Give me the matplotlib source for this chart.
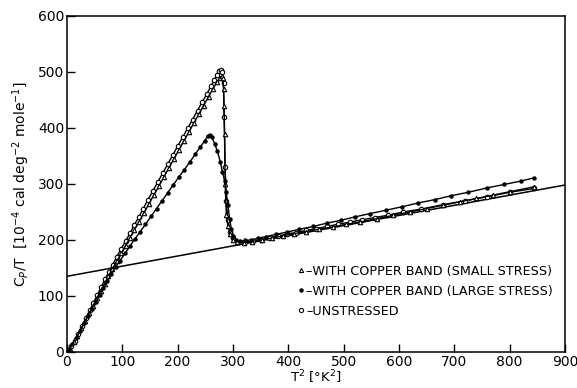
import numpy as np
import matplotlib.pyplot as plt
from matplotlib.lines import Line2D

# unstressed sample (open circles)
t2_unstressed = [3, 8, 14, 20, 27, 34, 41, 48, 55, 62, 69, 76, 83, 90, 98, 106, 114,
                 122, 130, 138, 146, 155, 164, 173, 182, 191, 200, 209, 218, 227, 236,
                 245, 253, 260, 266, 271, 275, 278, 281, 283, 284, 286, 288, 291, 295,
                 301, 310, 322, 336, 350, 366, 382, 398, 414, 432, 450, 470, 490, 512,
                 534, 556, 580, 608, 640, 680, 720, 760, 800, 845]
cpt_unstressed = [3, 10, 20, 32, 46, 60, 74, 88, 102, 116, 130, 143, 156, 170, 184, 198,
                  212, 227, 241, 256, 271, 287, 303, 319, 335, 351, 367, 383, 399, 415,
                  431, 447, 461, 474, 485, 494, 501, 503, 499, 480, 420, 330, 270, 235,
                  215, 203, 197, 196, 198, 200, 204, 207, 211, 213, 217, 220, 224, 228,
                  232, 236, 240, 244, 250, 255, 263, 270, 277, 285, 292]

# copper band, small stress (triangles)
t2_small = [5, 12, 19, 26, 33, 40, 47, 54, 61, 68, 75, 82, 90, 98, 106, 114, 122, 130,
            139, 148, 157, 166, 175, 184, 193, 202, 211, 220, 229, 238, 247, 256, 264,
            271, 277, 280, 282, 283, 284, 285, 286, 288, 291, 295, 300, 308, 320, 335,
            352, 370, 390, 410, 432, 455, 480, 505, 530, 560, 590, 620, 650, 680, 710,
            740, 770, 800, 845]
cpt_small = [6, 17, 29, 42, 55, 69, 82, 96, 109, 122, 135, 148, 162, 176, 190, 204, 218,
             232, 248, 264, 280, 296, 312, 328, 344, 360, 376, 392, 408, 424, 440, 456,
             470, 482, 490, 492, 490, 470, 440, 390, 300, 245, 225, 210, 200, 196, 195,
             197, 200, 203, 207, 211, 215, 219, 223, 228, 232, 238, 244, 250, 256, 262,
             268, 274, 280, 286, 295]

# copper band, large stress (dots)
t2_large = [4, 10, 17, 24, 31, 38, 45, 52, 59, 66, 73, 80, 88, 96, 105, 114, 123, 132,
            142, 152, 162, 172, 182, 192, 202, 212, 222, 232, 241, 249, 255, 258, 262,
            267, 272, 277, 281, 285, 288, 291, 294, 297, 301, 306, 313, 322, 333, 345,
            360, 378, 398, 420, 445, 470, 495, 520, 548, 576, 605, 635, 665, 695, 725,
            760, 790, 820, 845]
cpt_large = [5, 14, 25, 38, 51, 64, 77, 89, 101, 114, 126, 139, 152, 163, 176, 189, 202,
             214, 228, 242, 256, 270, 284, 298, 312, 325, 339, 353, 366, 377, 386, 388,
             383, 372, 358, 340, 322, 305, 285, 262, 238, 220, 207, 200, 198, 199, 200,
             203, 206, 210, 214, 219, 224, 230, 235, 241, 247, 253, 259, 266, 272, 279,
             285, 293, 299, 305, 311]

# straight reference line
t2_ref = [0, 900]
cpt_ref = [135, 298]

fig, ax = plt.subplots(figsize=(5.77, 3.88), dpi=100)
fig.subplots_adjust(left=0.116, right=0.979, top=0.959, bottom=0.093)

ax.plot(t2_ref, cpt_ref, color='black', lw=1.1)
ax.plot(t2_unstressed, cpt_unstressed, color='black', lw=1.0, marker='o',
        mfc='white', mec='black', ms=3.2, mew=0.8)
ax.plot(t2_small, cpt_small, color='black', lw=1.0, marker='^',
        mfc='white', mec='black', ms=3.2, mew=0.8)
ax.plot(t2_large, cpt_large, color='black', lw=1.0, marker='o',
        mfc='black', mec='black', ms=2.2)

ax.set_xlim(0, 900)
ax.set_ylim(0, 600)
ax.set_xticks(np.arange(0, 901, 100))
ax.set_yticks(np.arange(0, 601, 100))
ax.tick_params(direction='in', length=6, width=1, labelsize=10, pad=2,
               top=False, right=False)
for s in ax.spines.values():
    s.set_linewidth(1.1)

ax.set_xlabel('T$^2$ [°K$^2$]', fontsize=9.5, labelpad=0)
ax.set_ylabel('C$_P$/T  [10$^{-4}$ cal deg$^{-2}$ mole$^{-1}$]', fontsize=10, labelpad=4)

handles = [
    Line2D([], [], ls='none', marker='^', mfc='white', mec='black', ms=3, mew=0.8),
    Line2D([], [], ls='none', marker='o', mfc='black', mec='black', ms=2.2),
    Line2D([], [], ls='none', marker='o', mfc='white', mec='black', ms=3, mew=0.8),
]
labels = ['–WITH COPPER BAND (SMALL STRESS)',
          '–WITH COPPER BAND (LARGE STRESS)',
          '–UNSTRESSED']
ax.legend(handles, labels, loc='upper left', bbox_to_anchor=(0.45, 0.278),
          frameon=False, fontsize=9.2, handlelength=0.6, handletextpad=0.1,
          labelspacing=0.55, borderpad=0)

fig.savefig('out.png', dpi=100)
